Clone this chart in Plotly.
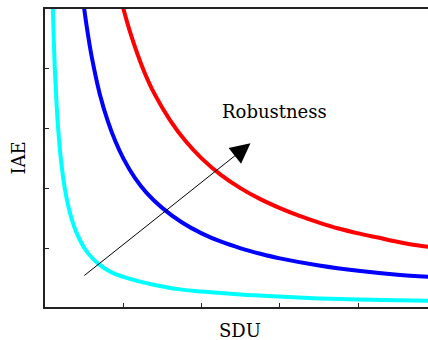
import plotly.graph_objects as go

# Curve data (abstract SDU / IAE units)
cyan_x = [0.095, 0.10, 0.125, 0.15, 0.175, 0.20, 0.25, 0.30, 0.35, 0.40, 0.50, 0.60, 0.70, 0.80, 0.90,
          1.0, 1.2, 1.4, 1.7, 2.0, 2.5, 3.0, 3.5, 4.0, 4.5, 4.9]
cyan_y = [5.30, 5.00, 4.00, 3.35, 2.88, 2.52, 2.02, 1.69, 1.45, 1.27, 1.01, 0.843, 0.724, 0.635, 0.57,
          0.525, 0.45, 0.39, 0.32, 0.28, 0.23, 0.195, 0.165, 0.147, 0.135, 0.127]

blue_x = [0.46, 0.50, 0.55, 0.60, 0.70, 0.80, 0.90, 1.0, 1.15, 1.3, 1.5, 1.75, 2.0, 2.25, 2.5, 2.75,
          3.0, 3.5, 4.0, 4.5, 4.9]
blue_y = [5.43, 5.00, 4.55, 4.17, 3.57, 3.13, 2.78, 2.50, 2.17, 1.92, 1.67, 1.43, 1.25, 1.11, 1.00, 0.91,
          0.833, 0.714, 0.625, 0.56, 0.525]

red_x = [0.94, 1.0, 1.1, 1.25, 1.4, 1.6, 1.8, 2.0, 2.25, 2.5, 2.75, 3.0, 3.25, 3.5, 3.75, 4.0, 4.25,
         4.5, 4.75, 4.9]
red_y = [5.32, 5.00, 4.55, 4.00, 3.57, 3.13, 2.78, 2.50, 2.22, 2.00, 1.82, 1.67, 1.54, 1.43, 1.33, 1.25, 1.18,
         1.11, 1.05, 1.025]

arrow_start = (0.483, 0.527)
arrow_end = (2.624, 2.75)
label_pos = (2.935, 3.277)
label_text = "Robustness"
x_title = "SDU"
y_title = "IAE"
tick_vals = [1, 2, 3, 4]

font_family = "DejaVu Serif"

fig = go.Figure()
for xs, ys, col in [(cyan_x, cyan_y, "#00FFFF"), (blue_x, blue_y, "#0000FF"), (red_x, red_y, "#FF0000")]:
    fig.add_trace(go.Scatter(x=xs, y=ys, mode="lines", line=dict(color=col, width=4, shape="spline", smoothing=1.0),
                             showlegend=False, hoverinfo="skip"))

fig.add_annotation(x=arrow_end[0], y=arrow_end[1], ax=arrow_start[0], ay=arrow_start[1],
                   xref="x", yref="y", axref="x", ayref="y", text="", showarrow=True,
                   arrowhead=2, arrowsize=4, arrowwidth=1, arrowcolor="black")
fig.add_annotation(x=label_pos[0], y=label_pos[1], xref="x", yref="y", text=label_text, showarrow=False,
                   font=dict(family=font_family, size=18, color="black"))
fig.add_annotation(x=0.509, y=-0.079, xref="paper", yref="paper", text=x_title, showarrow=False,
                   xanchor="center", yanchor="middle", font=dict(family=font_family, size=18, color="black"))
fig.add_annotation(x=-0.0697, y=0.499, xref="paper", yref="paper", text=y_title, showarrow=False,
                   textangle=-90, xanchor="center", yanchor="middle",
                   font=dict(family=font_family, size=18, color="black"))

fig.update_layout(
    width=428, height=340,
    margin=dict(l=45, r=0, t=9, b=33),
    paper_bgcolor="white", plot_bgcolor="white",
    xaxis=dict(range=[0, 4.891], showgrid=False, zeroline=False, showline=True, linecolor="#222", linewidth=2,
               mirror=True, ticks="inside", ticklen=4, tickwidth=1, tickcolor="#222",
               tickvals=tick_vals, showticklabels=False),
    yaxis=dict(range=[0.022, 4.99], showgrid=False, zeroline=False, showline=True, linecolor="#222", linewidth=2,
               mirror=False, ticks="inside", ticklen=4, tickwidth=1, tickcolor="#222",
               tickvals=tick_vals, showticklabels=False),
)

fig.write_html("out.html", config={"displayModeBar": False},
               post_script="document.body.style.margin='0';")
